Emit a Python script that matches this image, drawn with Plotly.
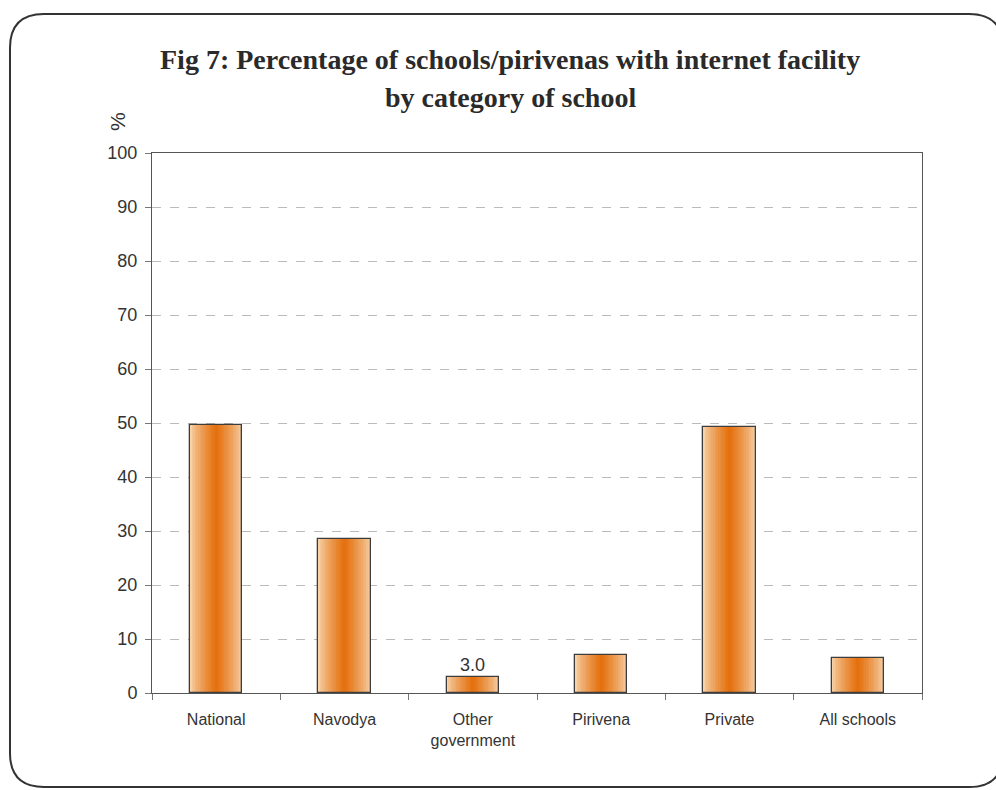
import plotly.graph_objects as go

categories = ["National", "Navodya", "Other<br>government", "Pirivena", "Private", "All schools"]
values = [49.7, 28.5, 3.0, 7.0, 49.3, 6.4]
y_ticks = [0, 10, 20, 30, 40, 50, 60, 70, 80, 90, 100]
label_index = 2
label_text = "3.0"
title_lines = ["Fig 7: Percentage of schools/pirivenas with internet facility",
               "by category of school"]

W, H = 996, 790
L, R, T, B = 152, 74, 153, 97
PW, PH = W - L - R, H - T - B

def px(x):
    return (x - L) / PW

def py(y):
    return (H - B - y) / PH

fig = go.Figure()

bar_w = 0.41
n = 16
c_edge = (247, 210, 168)
c_mid = (228, 112, 14)
for i in range(n):
    f = i / (n - 1)
    col = tuple(int(c_edge[k] + (c_mid[k] - c_edge[k]) * (f ** 0.8)) for k in range(3))
    w = bar_w * (1 - i / n)
    fig.add_trace(go.Bar(x=categories, y=values, width=w,
                         marker=dict(color="rgb(%d,%d,%d)" % col, line=dict(width=0)),
                         hoverinfo="skip", showlegend=False))
fig.add_trace(go.Bar(x=categories, y=values, width=bar_w,
                     marker=dict(color="rgba(0,0,0,0)", line=dict(color="#3d3d3d", width=1.3)),
                     showlegend=False))

fig.add_annotation(x=categories[label_index], y=values[label_index], text=label_text,
                   showarrow=False, yanchor="bottom", yshift=0,
                   font=dict(family="Liberation Sans, Arial", size=18, color="#333"))

fig.add_annotation(xref="paper", yref="paper", x=px(510), y=py(60), text="<b>%s</b>" % title_lines[0],
                   showarrow=False, xanchor="center", yanchor="middle",
                   font=dict(family="Liberation Serif, Times New Roman", size=28, color="#2a2a2a"))
fig.add_annotation(xref="paper", yref="paper", x=px(510), y=py(97), text="<b>%s</b>" % title_lines[1],
                   showarrow=False, xanchor="center", yanchor="middle",
                   font=dict(family="Liberation Serif, Times New Roman", size=28, color="#2a2a2a"))
fig.add_annotation(xref="paper", yref="paper", x=px(117), y=py(122), text="%",
                   showarrow=False, textangle=-90, xanchor="center", yanchor="middle",
                   font=dict(family="Liberation Sans, Arial", size=21, color="#333"))

# rounded border around chart
x0, x1, y0, y1 = 10, 1003, 14, 787
r = 34
path = ("M %f,%f L %f,%f Q %f,%f %f,%f L %f,%f Q %f,%f %f,%f L %f,%f Q %f,%f %f,%f L %f,%f Q %f,%f %f,%f Z" % (
    px(x0 + r), py(y0), px(x1 - r), py(y0), px(x1), py(y0), px(x1), py(y0 + r),
    px(x1), py(y1 - r), px(x1), py(y1), px(x1 - r), py(y1),
    px(x0 + r), py(y1), px(x0), py(y1), px(x0), py(y1 - r),
    px(x0), py(y0 + r), px(x0), py(y0), px(x0 + r), py(y0)))
fig.add_shape(type="path", xref="paper", yref="paper", path=path,
              line=dict(color="#333", width=2))

fig.update_layout(
    width=W, height=H,
    margin=dict(l=L, r=R, t=T, b=B, pad=0),
    paper_bgcolor="white", plot_bgcolor="white",
    barmode="overlay", bargap=0,
    font=dict(family="Liberation Sans, Arial", size=17, color="#333"),
)
fig.update_xaxes(showline=True, linecolor="#555", linewidth=1, mirror=True,
                 ticks="outside", tickson="boundaries", ticklen=6, tickcolor="#777",
                 ticklabelstandoff=12,
                 tickfont=dict(family="Liberation Sans, Arial", size=16, color="#333"), showgrid=False)
fig.update_yaxes(range=[0, 100], tickvals=y_ticks, showline=True, linecolor="#555", linewidth=1,
                 mirror=True, ticks="outside", ticklen=6, tickcolor="#777",
                 ticklabelstandoff=4,
                 tickfont=dict(family="Liberation Sans, Arial", size=18, color="#333"),
                 showgrid=True, gridcolor="#bbb", griddash="dash", gridwidth=1, zeroline=False)

fig.write_html("out.html")
